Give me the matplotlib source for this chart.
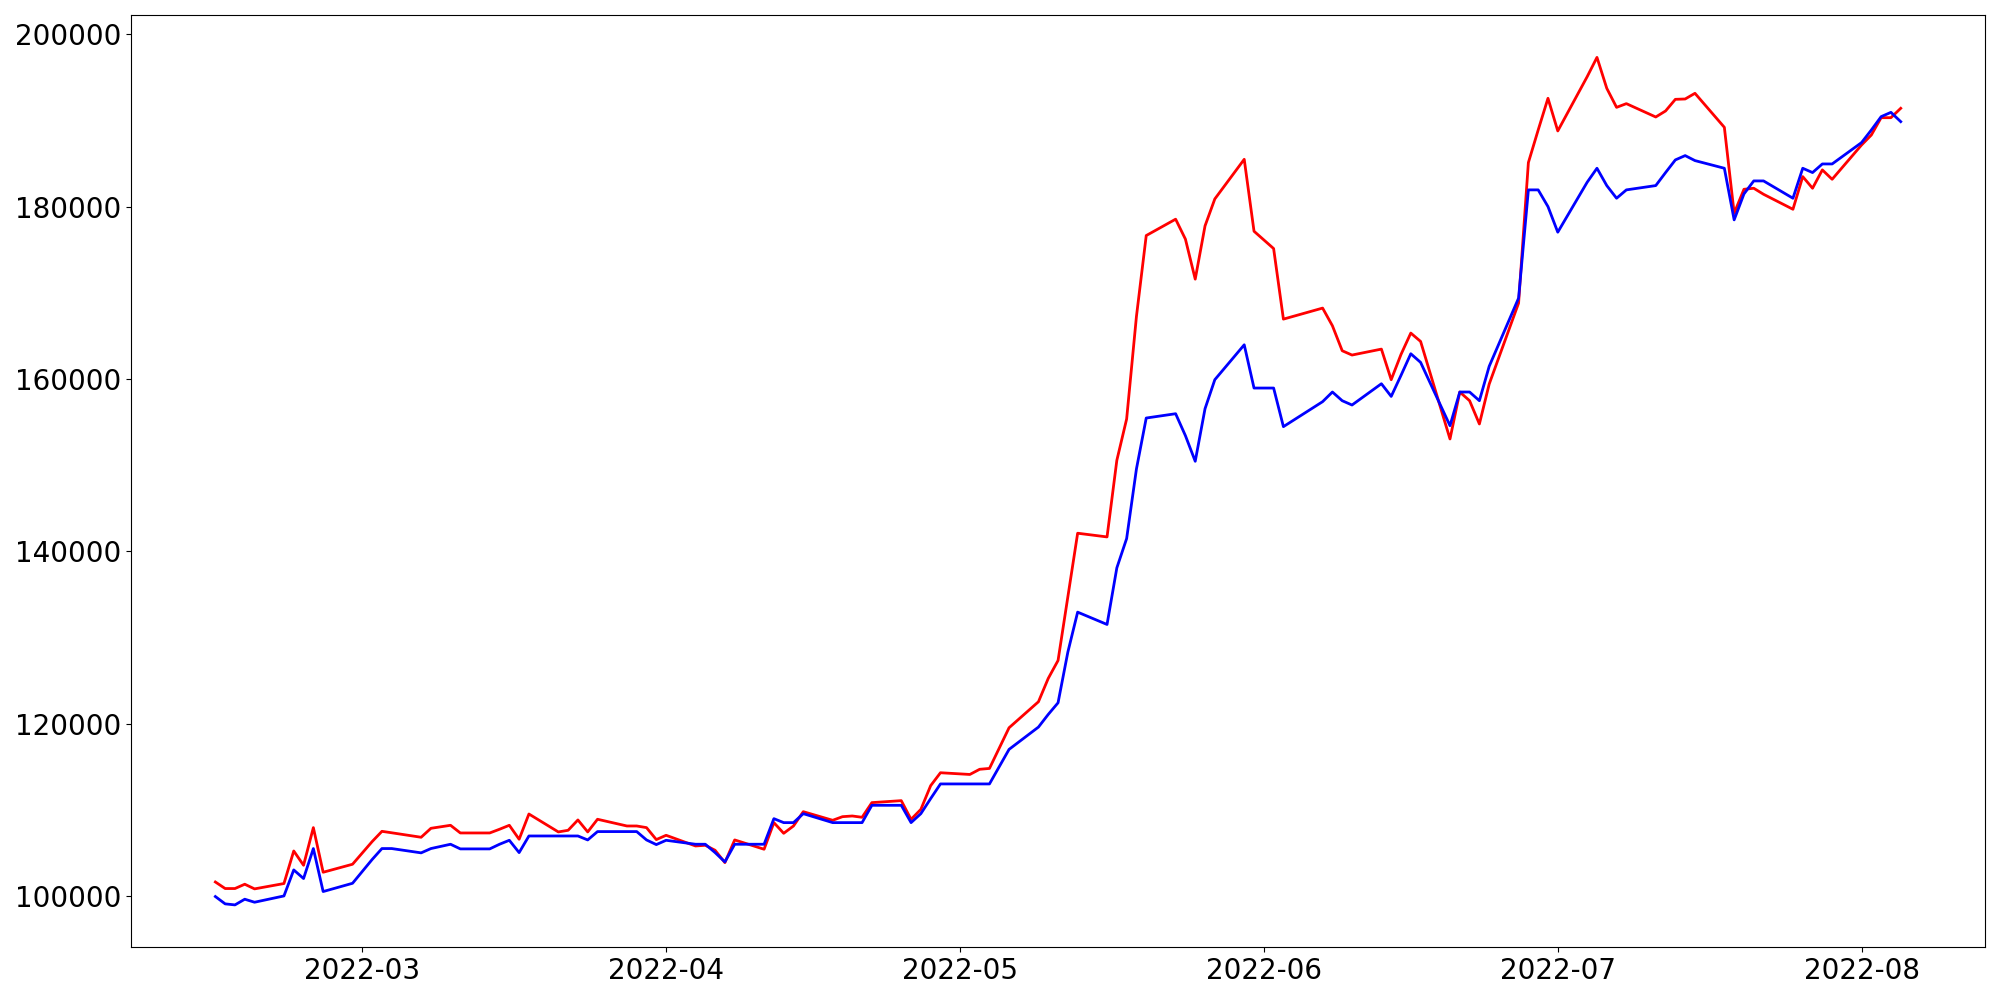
import numpy, pandas
import matplotlib
matplotlib.use("Agg")
import matplotlib.pyplot as plt

# trading days (KRX holidays removed)
holidays = ['2022-03-01', '2022-03-09', '2022-05-05', '2022-06-01', '2022-06-06']
days = pandas.bdate_range('2022-02-14', '2022-08-05')
days = days[~days.isin(pandas.to_datetime(holidays))]

red_feb = [101620, 100860, 100860, 101360, 100820, 101440, 105220, 103560, 107930, 102750, 103680]
red_mar = [106310, 107500, 107330, 106810, 107850, 108200, 107310, 107310, 107740, 108200, 106580,
	109510, 107430, 107620, 108820, 107430, 108900, 108120, 108120, 107930, 106540]
red_apr = [107040, 105800, 105880, 105300, 103870, 106500, 105420, 108510, 107270, 108120, 109780,
	108780, 109200, 109280, 109130, 110830, 111060, 108890, 110050, 112800, 114300]
red_may = [114100, 114700, 114800, 119520, 122540, 125250, 127330, 134710, 142100, 141670, 150560,
	155360, 167260, 176650, 178550, 176230, 171590, 177770, 180900, 185500, 177150]
red_jun = [175140, 166950, 168230, 166180, 163280, 162780, 163470, 159920, 162850, 165330, 164360,
	153040, 158490, 157480, 154780, 159410, 168810, 185120, 188900, 192580]
red_jul = [188790, 195090, 197330, 193740, 191530, 191960, 190410, 191110, 192460, 192500, 193160,
	189210, 179240, 182020, 182140, 181440, 179700, 183490, 182140, 184270, 183180]
red_aug = [187160, 188320, 190330, 190330, 191420]

blue_feb = [99930, 99080, 98960, 99620, 99270, 100000, 103020, 102020, 105500, 100510, 101470]
blue_mar = [104230, 105500, 105500, 105000, 105500, 106000, 105460, 105460, 106000, 106460, 105030,
	106960, 106960, 106960, 106960, 106500, 107470, 107470, 107470, 106500, 105960]
blue_apr = [106460, 106000, 106000, 105030, 103950, 106000, 106000, 108970, 108510, 108510, 109550,
	108510, 108510, 108510, 108510, 110520, 110520, 108510, 109550, 111300, 113000]
blue_may = [113000, 113000, 113000, 117010, 119600, 121070, 122420, 128300, 132940, 131510, 138080,
	141480, 149560, 155470, 155970, 153420, 150450, 156550, 159920, 163970, 158950]
blue_jun = [158950, 154470, 157370, 158490, 157480, 156980, 159450, 157980, 160420, 162930, 161930,
	154580, 158490, 158490, 157480, 161470, 169390, 181950, 181950, 180010]
blue_jul = [177040, 182840, 184460, 182450, 180980, 181950, 182450, 183960, 185430, 185930, 185350,
	184460, 178470, 181480, 182990, 182990, 180980, 184460, 183960, 184960, 184960]
blue_aug = [187440, 188900, 190450, 190950, 189870]

red = red_feb + red_mar + red_apr + red_may + red_jun + red_jul + red_aug
blue = blue_feb + blue_mar + blue_apr + blue_may + blue_jun + blue_jul + blue_aug


def main():
	fig = plt.figure(figsize=(20, 10), dpi=100)
	plt.plot(days, red, color='red', linewidth=2)
	plt.plot(days, blue, color='blue', linewidth=2)
	plt.xticks(fontsize=20)
	plt.yticks(fontsize=20)
	plt.tight_layout()
	plt.savefig('out.png')


if __name__ == "__main__":
	main()
